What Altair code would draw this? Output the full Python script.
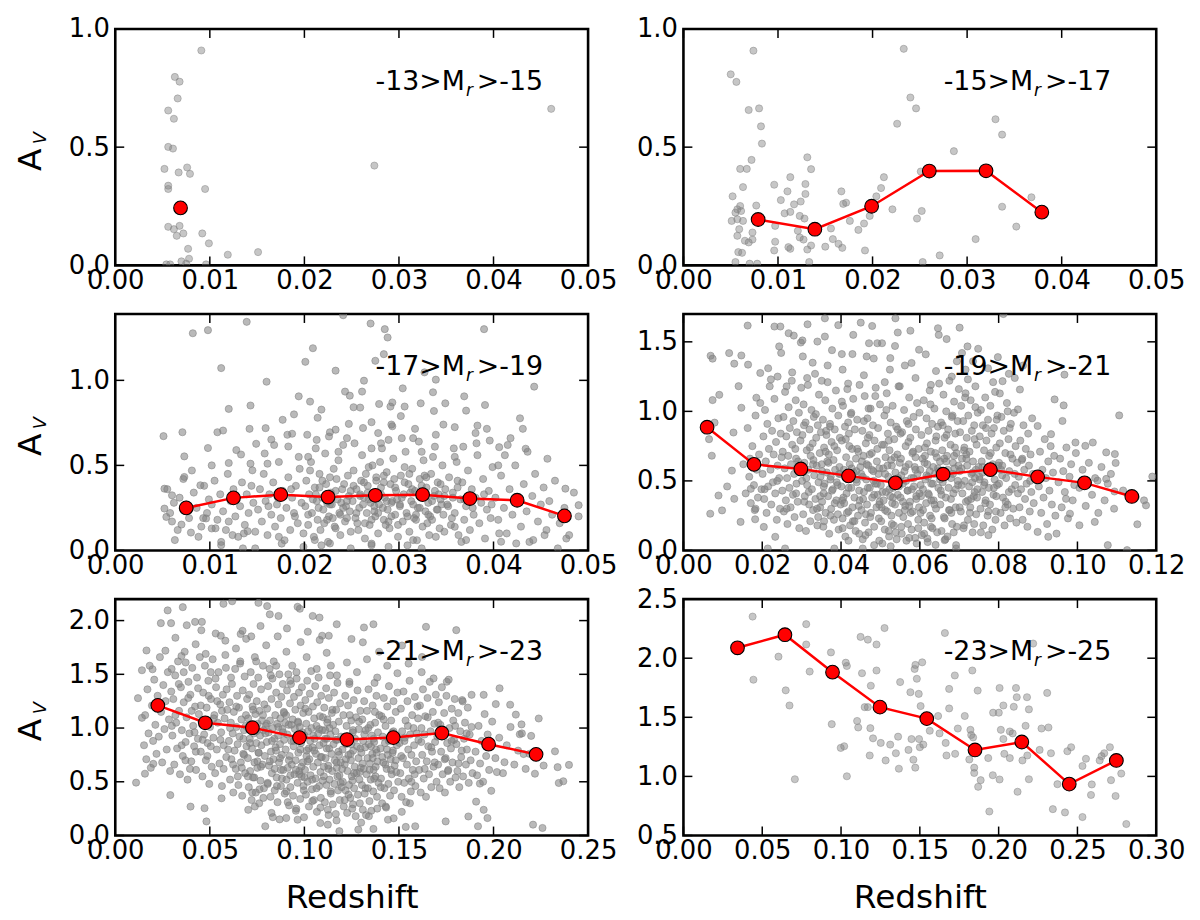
import altair as alt
import pandas as pd

W = 476
H = 238
TICK_LEN = 9
GRAY = '#808080'
RED = '#ff0000'
FONT = 'DejaVu Sans'

LABEL_LEFT = ['-13', '-15', '-17', '-19', '-21', '-23']
LABEL_RIGHT = ['-15', '-17', '-19', '-21', '-23', '-25']

X_MAX = [0.05, 0.05, 0.05, 0.12, 0.25, 0.30]
Y_RANGE = [(0.0, 1.0), (0.0, 1.0), (0.0, 1.39), (0.0, 1.7), (0.0, 2.2), (0.5, 2.5)]
X_TICKS = [
    [0.0, 0.01, 0.02, 0.03, 0.04, 0.05],
    [0.0, 0.01, 0.02, 0.03, 0.04, 0.05],
    [0.0, 0.01, 0.02, 0.03, 0.04, 0.05],
    [0.0, 0.02, 0.04, 0.06, 0.08, 0.10, 0.12],
    [0.0, 0.05, 0.10, 0.15, 0.20, 0.25],
    [0.0, 0.05, 0.10, 0.15, 0.20, 0.25, 0.30],
]
Y_TICKS = [
    [0.0, 0.5, 1.0],
    [0.0, 0.5, 1.0],
    [0.0, 0.5, 1.0],
    [0.0, 0.5, 1.0, 1.5],
    [0.0, 0.5, 1.0, 1.5, 2.0],
    [0.5, 1.0, 1.5, 2.0, 2.5],
]
# the crowded panels overlap far more, so their clouds read darker
POINT_ALPHA = [0.45, 0.45, 0.55, 0.55, 0.55, 0.45]

# binned medians (red curve)
BIN_Z = [
    [0.0069],
    [0.0079, 0.0139, 0.0199, 0.0260, 0.0320, 0.0379],
    [0.0075, 0.0125, 0.0175, 0.0225, 0.0275, 0.0325, 0.0375, 0.0425, 0.0475],
    [0.0060, 0.0179, 0.0298, 0.0419, 0.0538, 0.0659, 0.0779, 0.0899, 0.1018, 0.1138],
    [0.0225, 0.0476, 0.0725, 0.0974, 0.1225, 0.1470, 0.1727, 0.1974, 0.2225],
    [0.0343, 0.0644, 0.0946, 0.1247, 0.1544, 0.1850, 0.2147, 0.2448, 0.2747],
]
BIN_AV = [
    [0.243],
    [0.194, 0.153, 0.250, 0.399, 0.400, 0.225],
    [0.250, 0.309, 0.328, 0.314, 0.324, 0.328, 0.305, 0.295, 0.203],
    [0.886, 0.619, 0.586, 0.536, 0.486, 0.548, 0.581, 0.529, 0.486, 0.388],
    [1.211, 1.049, 1.003, 0.911, 0.893, 0.911, 0.954, 0.850, 0.755],
    [2.088, 2.199, 1.882, 1.586, 1.489, 1.224, 1.291, 0.935, 1.135],
]

# individual galaxies (redshift, A_V)
P1 = [
    (0.0091, 0.909), (0.0063, 0.797), (0.0068, 0.777), (0.0066, 0.706), (0.0056, 0.655),
    (0.0062, 0.620), (0.0056, 0.501), (0.0061, 0.494), (0.0052, 0.408), (0.0067, 0.393),
    (0.0076, 0.414), (0.0079, 0.387), (0.0056, 0.337), (0.0056, 0.323), (0.0095, 0.323),
    (0.0056, 0.163), (0.0062, 0.153), (0.0068, 0.167), (0.0072, 0.135), (0.0065, 0.125),
    (0.0092, 0.135), (0.0099, 0.093), (0.0077, 0.070), (0.0078, 0.028), (0.0070, 0.017),
    (0.0119, 0.045), (0.0151, 0.056), (0.0274, 0.422), (0.0461, 0.662), (0.0054, 0.004),
    (0.0058, 0.004), (0.0096, 0.004), (0.0075, 0.007),
]
P2 = [
    (0.0074, 0.908), (0.0233, 0.916), (0.0050, 0.808), (0.0056, 0.776), (0.0069, 0.657),
    (0.0080, 0.664), (0.0082, 0.588), (0.0083, 0.515), (0.0072, 0.446), (0.0060, 0.408),
    (0.0067, 0.408), (0.0063, 0.331), (0.0052, 0.292), (0.0240, 0.710), (0.0246, 0.664),
    (0.0226, 0.599), (0.0330, 0.618), (0.0337, 0.553), (0.0286, 0.483), (0.0131, 0.457),
    (0.0135, 0.407), (0.0113, 0.373), (0.0096, 0.341), (0.0129, 0.344), (0.0110, 0.313),
    (0.0129, 0.302), (0.0103, 0.276), (0.0124, 0.270), (0.0117, 0.258), (0.0077, 0.253),
    (0.0167, 0.313), (0.0172, 0.265), (0.0169, 0.260), (0.0212, 0.373), (0.0209, 0.327),
    (0.0204, 0.292), (0.0221, 0.237), (0.0251, 0.397), (0.0252, 0.230), (0.0247, 0.198),
    (0.0368, 0.288), (0.0337, 0.248), (0.0352, 0.164), (0.0309, 0.111), (0.0271, 0.042),
    (0.0253, 0.014), (0.0107, 0.220), (0.0113, 0.226), (0.0123, 0.209), (0.0128, 0.198),
    (0.0097, 0.167), (0.0121, 0.146), (0.0123, 0.118), (0.0127, 0.109), (0.0135, 0.084),
    (0.0131, 0.067), (0.0133, 0.014), (0.0097, 0.100), (0.0096, 0.063), (0.0111, 0.077),
    (0.0113, 0.070), (0.0150, 0.079), (0.0156, 0.156), (0.0158, 0.111), (0.0164, 0.091),
    (0.0168, 0.074), (0.0176, 0.188), (0.0185, 0.150), (0.0191, 0.177), (0.0192, 0.063),
    (0.0197, 0.209), (0.0057, 0.237), (0.0055, 0.223), (0.0061, 0.230), (0.0051, 0.188),
    (0.0057, 0.195), (0.0063, 0.188), (0.0059, 0.153), (0.0057, 0.125), (0.0065, 0.104),
    (0.0073, 0.139), (0.0073, 0.109), (0.0069, 0.097), (0.0058, 0.056), (0.0062, 0.053),
    (0.0055, 0.014), (0.0070, 0.007), (0.0078, 0.007), (0.0060, 0.251),
]
P3 = [
    (0.0082, 1.277), (0.0098, 1.295), (0.0139, 1.344), (0.0112, 1.072), (0.0241, 1.383),
    (0.0270, 1.334), (0.0285, 1.301), (0.0288, 1.252), (0.0390, 1.301), (0.0209, 1.189),
    (0.0201, 1.109), (0.0233, 1.057), (0.0284, 1.154), (0.0275, 1.115), (0.0327, 1.047),
    (0.0339, 1.004), (0.0336, 0.930), (0.0304, 0.953), (0.0263, 0.998), (0.0160, 0.992),
    (0.0261, 0.934), (0.0243, 0.934), (0.0443, 0.963), (0.0194, 0.906), (0.0369, 0.906),
    (0.0391, 0.855), (0.0349, 0.865), (0.0120, 0.832), (0.0143, 0.852), (0.0206, 0.875),
    (0.0218, 0.828), (0.0252, 0.842), (0.0279, 0.861), (0.0291, 0.846), (0.0306, 0.846),
    (0.0323, 0.865), (0.0371, 0.822), (0.0177, 0.768), (0.0428, 0.777), (0.0359, 0.725),
    (0.0383, 0.734), (0.0393, 0.715), (0.0431, 0.715), (0.0051, 0.672), (0.0071, 0.695),
    (0.0108, 0.695), (0.0114, 0.705), (0.0142, 0.715), (0.0159, 0.719), (0.0187, 0.686),
    (0.0213, 0.650), (0.0227, 0.695), (0.0247, 0.744), (0.0271, 0.754), (0.0293, 0.730),
    (0.0317, 0.715), (0.0418, 0.660), (0.0396, 0.646), (0.0406, 0.607), (0.0434, 0.598),
    (0.0457, 0.539), (0.0098, 0.602), (0.0073, 0.553), (0.0102, 0.500), (0.0120, 0.514),
    (0.0133, 0.564), (0.0145, 0.471), (0.0149, 0.627), (0.0165, 0.652), (0.0183, 0.611),
    (0.0161, 0.510), (0.0073, 0.432), (0.0090, 0.383), (0.0052, 0.363), (0.0060, 0.324),
    (0.0052, 0.246), (0.0054, 0.197), (0.0070, 0.152), (0.0080, 0.105), (0.0063, 0.061),
    (0.0096, 0.188), (0.0102, 0.129), (0.0112, 0.031), (0.0135, 0.012), (0.0148, 0.012),
    (0.0140, 0.113), (0.0124, 0.090), (0.0490, 0.266), (0.0476, 0.363), (0.0477, 0.070),
    (0.0468, 0.012), (0.0454, 0.090), (0.0442, 0.061), (0.0424, 0.041), (0.0408, 0.051),
    (0.0406, 0.100), (0.0371, 0.061), (0.0359, 0.139), (0.0324, 0.012), (0.0315, 0.061),
    (0.0289, 0.021), (0.0271, 0.031), (0.0249, 0.012), (0.0227, 0.041), (0.0211, 0.061),
    (0.0199, 0.021), (0.0173, 0.080),
    (0.0055, 0.36), (0.0062, 0.28), (0.0058, 0.22), (0.0068, 0.31), (0.0072, 0.42),
    (0.0078, 0.19), (0.0083, 0.34), (0.0086, 0.25), (0.0091, 0.14), (0.0094, 0.38),
    (0.0097, 0.22), (0.0066, 0.12), (0.0088, 0.08), (0.0075, 0.27), (0.0099, 0.30),
    (0.0081, 0.47), (0.0060, 0.17), (0.0093, 0.19),
    (0.0102, 0.27), (0.0105, 0.41), (0.0108, 0.18), (0.0111, 0.33), (0.0114, 0.23),
    (0.0117, 0.12), (0.0119, 0.45), (0.0122, 0.29), (0.0125, 0.36), (0.0127, 0.20),
    (0.0130, 0.08), (0.0132, 0.26), (0.0134, 0.40), (0.0137, 0.15), (0.0139, 0.33),
    (0.0141, 0.22), (0.0143, 0.51), (0.0146, 0.28), (0.0148, 0.11), (0.0112, 0.05),
    (0.0128, 0.59), (0.0136, 0.10), (0.0106, 0.13), (0.0144, 0.38), (0.0120, 0.17),
    (0.0151, 0.24), (0.0153, 0.36), (0.0155, 0.17), (0.0157, 0.45), (0.0159, 0.29),
    (0.0161, 0.09), (0.0163, 0.33), (0.0165, 0.21), (0.0167, 0.40), (0.0169, 0.14),
    (0.0171, 0.27), (0.0173, 0.52), (0.0175, 0.19), (0.0177, 0.35), (0.0179, 0.06),
    (0.0181, 0.25), (0.0183, 0.43), (0.0185, 0.12), (0.0187, 0.31), (0.0189, 0.22),
    (0.0191, 0.38), (0.0193, 0.16), (0.0195, 0.48), (0.0197, 0.28), (0.0199, 0.10),
    (0.0158, 0.57), (0.0168, 0.62), (0.0182, 0.68), (0.0194, 0.55), (0.0176, 0.04),
    (0.0186, 0.36), (0.0162, 0.26), (0.0172, 0.31), (0.0190, 0.20),
    (0.0201, 0.26), (0.0202, 0.41), (0.0204, 0.15), (0.0205, 0.33), (0.0207, 0.52),
    (0.0208, 0.22), (0.0210, 0.08), (0.0211, 0.37), (0.0213, 0.29), (0.0214, 0.18),
    (0.0216, 0.45), (0.0217, 0.12), (0.0219, 0.31), (0.0220, 0.24), (0.0222, 0.57),
    (0.0223, 0.39), (0.0225, 0.05), (0.0226, 0.20), (0.0228, 0.34), (0.0229, 0.27),
    (0.0231, 0.48), (0.0232, 0.14), (0.0234, 0.42), (0.0235, 0.30), (0.0237, 0.22),
    (0.0238, 0.09), (0.0240, 0.36), (0.0241, 0.62), (0.0243, 0.17), (0.0244, 0.26),
    (0.0246, 0.44), (0.0247, 0.32), (0.0249, 0.11), (0.0206, 0.47), (0.0212, 0.60),
    (0.0218, 0.03), (0.0224, 0.28), (0.0230, 0.19), (0.0236, 0.53), (0.0242, 0.39),
    (0.0248, 0.23), (0.0209, 0.30), (0.0215, 0.25), (0.0221, 0.16), (0.0227, 0.43),
    (0.0233, 0.35), (0.0239, 0.28), (0.0245, 0.19), (0.0203, 0.68), (0.0233, 0.71),
    (0.0245, 0.66),
    (0.0251, 0.29), (0.0252, 0.47), (0.0254, 0.19), (0.0255, 0.36), (0.0257, 0.12),
    (0.0258, 0.25), (0.0260, 0.41), (0.0261, 0.56), (0.0263, 0.31), (0.0264, 0.07),
    (0.0266, 0.22), (0.0267, 0.38), (0.0269, 0.15), (0.0270, 0.28), (0.0272, 0.50),
    (0.0273, 0.34), (0.0275, 0.20), (0.0276, 0.43), (0.0278, 0.10), (0.0279, 0.27),
    (0.0281, 0.37), (0.0282, 0.60), (0.0284, 0.18), (0.0285, 0.31), (0.0287, 0.46),
    (0.0288, 0.24), (0.0290, 0.13), (0.0291, 0.39), (0.0293, 0.29), (0.0294, 0.54),
    (0.0296, 0.21), (0.0297, 0.35), (0.0299, 0.08), (0.0253, 0.63), (0.0259, 0.33),
    (0.0265, 0.45), (0.0271, 0.04), (0.0277, 0.32), (0.0283, 0.25), (0.0289, 0.65),
    (0.0295, 0.42), (0.0256, 0.16), (0.0262, 0.27), (0.0268, 0.49), (0.0274, 0.23),
    (0.0280, 0.52), (0.0286, 0.15), (0.0292, 0.20), (0.0298, 0.30), (0.0262, 0.72),
    (0.0278, 0.69), (0.0292, 0.74), (0.0268, 0.30), (0.0284, 0.40),
    (0.0301, 0.26), (0.0302, 0.44), (0.0304, 0.17), (0.0305, 0.33), (0.0307, 0.58),
    (0.0308, 0.22), (0.0310, 0.39), (0.0311, 0.11), (0.0313, 0.29), (0.0314, 0.48),
    (0.0316, 0.19), (0.0317, 0.35), (0.0319, 0.06), (0.0320, 0.25), (0.0322, 0.42),
    (0.0323, 0.31), (0.0325, 0.14), (0.0326, 0.53), (0.0328, 0.23), (0.0329, 0.37),
    (0.0331, 0.28), (0.0332, 0.09), (0.0334, 0.45), (0.0335, 0.18), (0.0337, 0.32),
    (0.0338, 0.61), (0.0340, 0.24), (0.0341, 0.40), (0.0343, 0.13), (0.0344, 0.30),
    (0.0346, 0.50), (0.0347, 0.21), (0.0349, 0.36), (0.0303, 0.66), (0.0309, 0.03),
    (0.0315, 0.27), (0.0321, 0.64), (0.0327, 0.44), (0.0333, 0.20), (0.0339, 0.08),
    (0.0345, 0.27), (0.0312, 0.34), (0.0318, 0.21), (0.0324, 0.38), (0.0330, 0.16),
    (0.0336, 0.55), (0.0342, 0.33), (0.0348, 0.11), (0.0306, 0.49), (0.0339, 0.68),
    (0.0351, 0.27), (0.0353, 0.43), (0.0355, 0.15), (0.0357, 0.34), (0.0359, 0.22),
    (0.0361, 0.52), (0.0363, 0.09), (0.0365, 0.30), (0.0367, 0.40), (0.0369, 0.18),
    (0.0371, 0.26), (0.0373, 0.47), (0.0375, 0.12), (0.0377, 0.36), (0.0379, 0.21),
    (0.0381, 0.31), (0.0383, 0.56), (0.0385, 0.16), (0.0387, 0.28), (0.0389, 0.42),
    (0.0391, 0.07), (0.0393, 0.24), (0.0395, 0.35), (0.0397, 0.19), (0.0399, 0.49),
    (0.0358, 0.60), (0.0366, 0.05), (0.0374, 0.29), (0.0382, 0.63), (0.0390, 0.33),
    (0.0398, 0.27), (0.0362, 0.37), (0.0378, 0.25),
    (0.0402, 0.31), (0.0405, 0.18), (0.0408, 0.44), (0.0411, 0.25), (0.0414, 0.10),
    (0.0417, 0.36), (0.0420, 0.21), (0.0423, 0.50), (0.0426, 0.28), (0.0429, 0.14),
    (0.0432, 0.39), (0.0435, 0.23), (0.0438, 0.05), (0.0441, 0.32), (0.0444, 0.45),
    (0.0447, 0.17), (0.0450, 0.27), (0.0453, 0.37), (0.0456, 0.12), (0.0459, 0.29),
    (0.0462, 0.21), (0.0465, 0.41), (0.0470, 0.16), (0.0475, 0.25), (0.0480, 0.09),
    (0.0485, 0.34), (0.0490, 0.20), (0.0412, 0.56), (0.0436, 0.58),
]
P3_CORE = [
    (0.0212, 0.33), (0.0238, 0.21), (0.0263, 0.40), (0.0289, 0.17), (0.0314, 0.36),
    (0.0341, 0.24), (0.0227, 0.27), (0.0252, 0.38), (0.0278, 0.22), (0.0303, 0.31),
    (0.0329, 0.43), (0.0356, 0.19), (0.0219, 0.41), (0.0245, 0.29), (0.0271, 0.18),
    (0.0296, 0.37), (0.0322, 0.25), (0.0348, 0.32), (0.0233, 0.13), (0.0259, 0.32),
    (0.0284, 0.44), (0.0309, 0.20), (0.0335, 0.29), (0.0362, 0.41), (0.0204, 0.21),
    (0.0249, 0.35), (0.0274, 0.26), (0.0299, 0.15), (0.0326, 0.33), (0.0352, 0.26),
    (0.0216, 0.37), (0.0241, 0.25), (0.0267, 0.34), (0.0292, 0.28), (0.0318, 0.18),
    (0.0344, 0.39), (0.0229, 0.31), (0.0255, 0.22), (0.0281, 0.33), (0.0306, 0.40),
    (0.0331, 0.21), (0.0369, 0.30), (0.0224, 0.18), (0.0276, 0.41), (0.0301, 0.27),
    (0.0338, 0.35), (0.0264, 0.16), (0.0311, 0.45), (0.0287, 0.29), (0.0357, 0.31),
    (0.0214, 0.78), (0.0236, 0.58), (0.0259, 0.84), (0.0281, 0.63), (0.0302, 0.79),
    (0.0324, 0.58), (0.0347, 0.74), (0.0368, 0.61), (0.0226, 0.67), (0.0248, 0.91),
    (0.0271, 0.60), (0.0293, 0.87), (0.0315, 0.66), (0.0337, 0.82), (0.0359, 0.55),
    (0.0381, 0.69), (0.0204, 0.55), (0.0405, 0.50), (0.0189, 0.80), (0.0415, 0.62),
]
P4 = [
    (0.0069, 1.400), (0.0074, 1.379), (0.0074, 1.081), (0.0091, 1.119), (0.0079, 0.919),
    (0.0065, 0.800), (0.0072, 0.681), (0.0068, 0.264), (0.0098, 0.288), (0.0089, 0.395),
    (0.0111, 0.460), (0.0116, 1.419), (0.0129, 1.343), (0.0147, 1.402), (0.0163, 1.617),
    (0.0164, 1.336), (0.0127, 0.848), (0.0147, 1.026), (0.0140, 1.181), (0.0123, 0.574),
    (0.0129, 0.371), (0.0145, 0.205), (0.0182, 0.224), (0.0185, 1.098), (0.0195, 1.276),
    (0.0231, 1.610), (0.0246, 1.610), (0.0243, 1.467), (0.0267, 1.562), (0.0280, 1.545),
    (0.0298, 1.495), (0.0303, 1.395), (0.0315, 1.626), (0.0340, 1.502), (0.0359, 1.538),
    (0.0359, 1.669), (0.0450, 1.638), (0.0479, 1.614), (0.0402, 1.412), (0.0429, 1.412),
    (0.0465, 1.395), (0.0492, 1.490), (0.0504, 1.490), (0.0525, 1.383), (0.0538, 1.669),
    (0.0544, 1.567), (0.0598, 1.443), (0.0579, 1.348), (0.0646, 1.598), (0.0648, 1.550),
    (0.0701, 1.602), (0.0721, 1.467), (0.0716, 1.300), (0.0812, 1.700), (0.0803, 1.129),
    (0.0810, 1.217), (0.0841, 1.240), (0.0854, 1.157), (0.0849, 1.014), (0.0899, 0.895),
    (0.0942, 1.086), (0.0965, 1.043), (0.0967, 1.264), (0.0933, 0.836), (0.0962, 0.931),
    (0.1106, 0.971), (0.0995, 0.776), (0.1020, 0.752), (0.1039, 0.776), (0.1073, 0.705),
    (0.1095, 0.693), (0.1097, 0.629), (0.1051, 0.502), (0.1073, 0.514), (0.1094, 0.424),
    (0.1116, 0.431), (0.1148, 0.383), (0.1169, 0.360), (0.1174, 0.324), (0.1190, 0.531),
    (0.1152, 0.188), (0.1077, 0.038), (0.1126, 0.002), (0.1044, 0.205), (0.1005, 0.181),
    (0.0947, 0.121), (0.0926, 0.098), (0.0899, 0.133), (0.0981, 0.264), (0.0971, 0.371),
    (0.0774, 0.110), (0.0692, 0.038), (0.0692, 0.014), (0.0663, 0.074), (0.0619, 0.086),
    (0.0455, 0.014), (0.0484, 0.038), (0.0383, 0.014), (0.0258, 0.014), (0.0214, 0.014),
    (0.0233, 0.098), (0.0204, 0.169), (0.0183, 0.300), (0.0171, 0.443),
    (0.0152, 0.62), (0.0158, 0.41), (0.0163, 0.88), (0.0167, 0.53), (0.0171, 0.34),
    (0.0175, 0.75), (0.0179, 0.47), (0.0183, 0.97), (0.0186, 0.58), (0.0189, 0.38),
    (0.0192, 0.69), (0.0195, 1.06), (0.0198, 0.44), (0.0169, 0.66), (0.0181, 0.29),
    (0.0201, 0.55), (0.0203, 0.82), (0.0205, 0.37), (0.0207, 1.01), (0.0209, 0.64),
    (0.0211, 0.27), (0.0213, 0.91), (0.0215, 0.46), (0.0217, 0.73), (0.0219, 1.18),
    (0.0221, 0.58), (0.0223, 0.33), (0.0225, 0.86), (0.0227, 0.49), (0.0229, 0.69),
    (0.0231, 1.09), (0.0233, 0.41), (0.0235, 0.78), (0.0237, 0.22), (0.0239, 0.61),
    (0.0241, 0.95), (0.0243, 0.52), (0.0245, 0.30), (0.0247, 0.84), (0.0249, 0.67),
    (0.0206, 0.44), (0.0222, 1.23), (0.0238, 0.50),
    (0.0251, 0.43), (0.0252, 0.71), (0.0254, 0.96), (0.0255, 0.28), (0.0257, 0.59),
    (0.0258, 1.14), (0.0260, 0.36), (0.0261, 0.82), (0.0263, 0.52), (0.0264, 0.19),
    (0.0266, 0.68), (0.0267, 1.03), (0.0269, 0.45), (0.0270, 0.88), (0.0272, 0.31),
    (0.0273, 0.62), (0.0275, 1.22), (0.0276, 0.76), (0.0278, 0.40), (0.0279, 0.93),
    (0.0281, 0.55), (0.0282, 0.24), (0.0284, 0.73), (0.0285, 1.08), (0.0287, 0.48),
    (0.0288, 0.85), (0.0290, 0.35), (0.0291, 0.64), (0.0293, 0.99), (0.0294, 0.16),
    (0.0296, 0.57), (0.0297, 0.79), (0.0299, 1.17), (0.0262, 0.30), (0.0286, 0.66),
    (0.0301, 0.50), (0.0302, 0.83), (0.0304, 0.26), (0.0305, 1.05), (0.0307, 0.63),
    (0.0308, 0.39), (0.0310, 0.92), (0.0311, 0.14), (0.0313, 0.72), (0.0314, 0.47),
    (0.0316, 1.19), (0.0317, 0.58), (0.0319, 0.33), (0.0320, 0.87), (0.0322, 0.21),
    (0.0323, 0.68), (0.0325, 1.01), (0.0326, 0.44), (0.0328, 0.77), (0.0329, 0.29),
    (0.0331, 0.96), (0.0332, 0.54), (0.0334, 1.27), (0.0335, 0.37), (0.0337, 0.81),
    (0.0338, 0.61), (0.0340, 0.18), (0.0341, 0.90), (0.0343, 0.49), (0.0344, 1.12),
    (0.0346, 0.70), (0.0347, 0.31), (0.0349, 0.85), (0.0306, 0.57), (0.0318, 0.42),
    (0.0330, 0.65), (0.0342, 0.24), (0.0348, 0.53),
    (0.0351, 0.62), (0.0352, 0.35), (0.0354, 0.94), (0.0355, 0.17), (0.0357, 0.74),
    (0.0358, 0.48), (0.0360, 1.08), (0.0361, 0.27), (0.0363, 0.83), (0.0364, 0.56),
    (0.0366, 1.21), (0.0367, 0.39), (0.0369, 0.69), (0.0370, 0.12), (0.0372, 0.91),
    (0.0373, 0.51), (0.0375, 0.30), (0.0376, 0.78), (0.0378, 1.02), (0.0379, 0.44),
    (0.0381, 0.65), (0.0382, 0.22), (0.0384, 0.87), (0.0385, 0.58), (0.0387, 1.15),
    (0.0388, 0.36), (0.0390, 0.72), (0.0391, 0.47), (0.0393, 0.97), (0.0394, 0.15),
    (0.0396, 0.60), (0.0397, 0.81), (0.0399, 0.33), (0.0356, 0.41), (0.0365, 0.64),
    (0.0374, 0.53), (0.0383, 0.75), (0.0392, 0.26), (0.0398, 0.55), (0.0362, 0.86),
    (0.0401, 0.46), (0.0402, 0.79), (0.0404, 0.23), (0.0405, 1.04), (0.0407, 0.58),
    (0.0408, 0.34), (0.0410, 0.89), (0.0411, 0.10), (0.0413, 0.67), (0.0414, 0.41),
    (0.0416, 1.16), (0.0417, 0.53), (0.0419, 0.28), (0.0420, 0.84), (0.0422, 0.62),
    (0.0423, 0.18), (0.0425, 0.98), (0.0426, 0.45), (0.0428, 0.73), (0.0429, 0.31),
    (0.0431, 1.09), (0.0432, 0.56), (0.0434, 0.38), (0.0435, 0.87), (0.0437, 0.14),
    (0.0438, 0.66), (0.0440, 0.49), (0.0441, 0.94), (0.0443, 0.25), (0.0444, 0.71),
    (0.0446, 0.43), (0.0447, 1.19), (0.0449, 0.60), (0.0403, 0.36), (0.0412, 0.52),
    (0.0421, 0.75), (0.0430, 0.21), (0.0439, 0.57), (0.0445, 0.32), (0.0418, 0.92),
    (0.0451, 0.55), (0.0452, 0.29), (0.0454, 0.86), (0.0455, 0.08), (0.0457, 0.68),
    (0.0458, 0.42), (0.0460, 1.11), (0.0461, 0.20), (0.0463, 0.77), (0.0464, 0.51),
    (0.0466, 0.33), (0.0467, 0.95), (0.0469, 0.61), (0.0470, 0.13), (0.0472, 0.83),
    (0.0473, 0.45), (0.0475, 1.02), (0.0476, 0.27), (0.0478, 0.70), (0.0479, 0.38),
    (0.0481, 0.90), (0.0482, 0.57), (0.0484, 0.17), (0.0485, 0.79), (0.0487, 0.48),
    (0.0488, 1.17), (0.0490, 0.31), (0.0491, 0.64), (0.0493, 0.40), (0.0494, 0.88),
    (0.0496, 0.23), (0.0497, 0.59), (0.0499, 1.05), (0.0456, 0.37), (0.0465, 0.62),
    (0.0474, 0.24), (0.0483, 0.50), (0.0492, 0.73), (0.0498, 0.35), (0.0468, 0.81),
    (0.0501, 0.47), (0.0502, 0.21), (0.0504, 0.76), (0.0505, 0.05), (0.0507, 0.59),
    (0.0508, 0.36), (0.0510, 0.97), (0.0511, 0.15), (0.0513, 0.67), (0.0514, 0.42),
    (0.0516, 1.13), (0.0517, 0.28), (0.0519, 0.84), (0.0520, 0.53), (0.0522, 0.10),
    (0.0523, 0.72), (0.0525, 0.39), (0.0526, 0.92), (0.0528, 0.25), (0.0529, 0.61),
    (0.0531, 1.04), (0.0532, 0.45), (0.0534, 0.18), (0.0535, 0.80), (0.0537, 0.33),
    (0.0538, 0.56), (0.0540, 0.89), (0.0541, 0.08), (0.0543, 0.69), (0.0544, 0.40),
    (0.0546, 1.18), (0.0547, 0.27), (0.0549, 0.63), (0.0503, 0.31), (0.0512, 0.55),
    (0.0521, 0.79), (0.0530, 0.34), (0.0539, 0.13), (0.0548, 0.50), (0.0527, 0.65),
    (0.0551, 0.38), (0.0552, 0.66), (0.0554, 0.12), (0.0555, 0.85), (0.0557, 0.48),
    (0.0558, 0.24), (0.0560, 1.01), (0.0561, 0.57), (0.0563, 0.32), (0.0564, 0.75),
    (0.0566, 0.07), (0.0567, 0.93), (0.0569, 0.43), (0.0570, 0.19), (0.0572, 0.62),
    (0.0573, 1.10), (0.0575, 0.35), (0.0576, 0.81), (0.0578, 0.52), (0.0579, 0.15),
    (0.0581, 0.70), (0.0582, 0.28), (0.0584, 0.96), (0.0585, 0.46), (0.0587, 0.60),
    (0.0588, 0.09), (0.0590, 0.87), (0.0591, 0.37), (0.0593, 1.06), (0.0594, 0.55),
    (0.0596, 0.22), (0.0597, 0.73), (0.0599, 0.41), (0.0553, 0.54), (0.0562, 0.29),
    (0.0571, 0.78), (0.0580, 0.44), (0.0589, 0.67), (0.0598, 0.31), (0.0565, 0.50),
    (0.0601, 0.58), (0.0602, 0.27), (0.0604, 0.83), (0.0605, 0.11), (0.0607, 0.66),
    (0.0608, 0.44), (0.0610, 1.08), (0.0611, 0.20), (0.0613, 0.74), (0.0614, 0.51),
    (0.0616, 0.34), (0.0617, 0.95), (0.0619, 0.62), (0.0620, 0.06), (0.0622, 0.86),
    (0.0623, 0.40), (0.0625, 1.15), (0.0626, 0.25), (0.0628, 0.71), (0.0629, 0.48),
    (0.0631, 0.91), (0.0632, 0.16), (0.0634, 0.60), (0.0635, 0.36), (0.0637, 1.02),
    (0.0638, 0.55), (0.0640, 0.79), (0.0641, 0.30), (0.0643, 0.67), (0.0644, 0.13),
    (0.0646, 0.89), (0.0647, 0.45), (0.0649, 1.20), (0.0603, 0.39), (0.0612, 0.63),
    (0.0621, 0.53), (0.0630, 0.23), (0.0639, 0.70), (0.0648, 0.57), (0.0618, 0.77),
    (0.0651, 0.64), (0.0652, 0.33), (0.0654, 0.92), (0.0655, 0.14), (0.0657, 0.72),
    (0.0658, 0.49), (0.0660, 1.12), (0.0661, 0.24), (0.0663, 0.81), (0.0664, 0.56),
    (0.0666, 0.38), (0.0667, 1.00), (0.0669, 0.68), (0.0670, 0.10), (0.0672, 0.87),
    (0.0673, 0.45), (0.0675, 1.22), (0.0676, 0.29), (0.0678, 0.76), (0.0679, 0.52),
    (0.0681, 0.96), (0.0682, 0.19), (0.0684, 0.63), (0.0685, 0.41), (0.0687, 1.07),
    (0.0688, 0.59), (0.0690, 0.84), (0.0691, 0.31), (0.0693, 0.70), (0.0694, 0.17),
    (0.0696, 0.93), (0.0697, 0.47), (0.0699, 1.16), (0.0653, 0.43), (0.0662, 0.66),
    (0.0671, 0.58), (0.0680, 0.27), (0.0689, 0.74), (0.0698, 0.61), (0.0668, 0.83),
    (0.0701, 0.57), (0.0702, 0.85), (0.0704, 0.28), (0.0705, 1.04), (0.0707, 0.66),
    (0.0708, 0.41), (0.0710, 0.93), (0.0711, 0.16), (0.0713, 0.74), (0.0714, 0.50),
    (0.0716, 1.13), (0.0717, 0.35), (0.0719, 0.81), (0.0720, 0.61), (0.0722, 0.22),
    (0.0723, 0.97), (0.0725, 0.46), (0.0726, 0.71), (0.0728, 0.31), (0.0729, 1.08),
    (0.0731, 0.55), (0.0732, 0.86), (0.0734, 0.13), (0.0735, 0.64), (0.0737, 0.39),
    (0.0738, 0.90), (0.0740, 0.52), (0.0741, 1.18), (0.0743, 0.26), (0.0744, 0.76),
    (0.0746, 0.44), (0.0747, 0.99), (0.0749, 0.60), (0.0706, 0.47), (0.0718, 0.69),
    (0.0730, 0.37), (0.0742, 0.58), (0.0739, 0.80),
    (0.0751, 0.53), (0.0752, 0.82), (0.0754, 0.30), (0.0755, 1.01), (0.0757, 0.64),
    (0.0758, 0.42), (0.0760, 0.90), (0.0761, 0.18), (0.0763, 0.72), (0.0764, 0.49),
    (0.0766, 1.10), (0.0767, 0.36), (0.0769, 0.79), (0.0770, 0.58), (0.0772, 0.25),
    (0.0773, 0.94), (0.0775, 0.45), (0.0776, 0.68), (0.0778, 0.33), (0.0779, 1.04),
    (0.0781, 0.56), (0.0782, 0.84), (0.0784, 0.15), (0.0785, 0.62), (0.0787, 0.40),
    (0.0788, 0.88), (0.0790, 0.51), (0.0791, 1.14), (0.0793, 0.28), (0.0794, 0.74),
    (0.0796, 0.47), (0.0797, 0.97), (0.0799, 0.61), (0.0759, 0.56), (0.0780, 0.70),
    (0.0801, 0.48), (0.0803, 0.77), (0.0805, 0.27), (0.0807, 0.96), (0.0809, 0.61),
    (0.0811, 0.38), (0.0813, 0.86), (0.0815, 0.18), (0.0817, 0.70), (0.0819, 0.52),
    (0.0821, 1.06), (0.0823, 0.33), (0.0825, 0.80), (0.0827, 0.57), (0.0829, 0.23),
    (0.0831, 0.91), (0.0833, 0.44), (0.0835, 0.66), (0.0837, 0.30), (0.0839, 0.99),
    (0.0841, 0.55), (0.0843, 0.75), (0.0845, 0.20), (0.0847, 0.63), (0.0849, 0.41),
    (0.0806, 0.58), (0.0818, 0.35), (0.0830, 0.69), (0.0842, 0.47), (0.0828, 0.88),
    (0.0851, 0.53), (0.0853, 0.31), (0.0855, 0.79), (0.0857, 0.44), (0.0859, 0.65),
    (0.0861, 0.22), (0.0863, 0.90), (0.0865, 0.58), (0.0867, 0.37), (0.0869, 0.73),
    (0.0871, 0.48), (0.0873, 0.17), (0.0875, 0.84), (0.0877, 0.61), (0.0879, 0.28),
    (0.0881, 0.69), (0.0883, 0.42), (0.0885, 0.95), (0.0887, 0.55), (0.0889, 0.34),
    (0.0860, 0.66), (0.0880, 0.50),
    (0.0902, 0.46), (0.0905, 0.71), (0.0908, 0.27), (0.0911, 0.58), (0.0914, 0.38),
    (0.0917, 0.80), (0.0920, 0.52), (0.0923, 0.19), (0.0926, 0.64), (0.0929, 0.43),
    (0.0932, 0.75), (0.0935, 0.33), (0.0938, 0.56), (0.0941, 0.68), (0.0944, 0.25),
    (0.0952, 0.49), (0.0956, 0.66), (0.0960, 0.31), (0.0964, 0.57), (0.0968, 0.42),
    (0.0972, 0.74), (0.0976, 0.23), (0.0980, 0.53), (0.0984, 0.62), (0.0988, 0.36),
    (0.0992, 0.47), (0.0996, 0.70),
    (0.1005, 0.45), (0.1013, 0.58), (0.1021, 0.32), (0.1029, 0.63), (0.1037, 0.40),
    (0.1045, 0.52), (0.1053, 0.27), (0.1061, 0.60), (0.1069, 0.36), (0.1077, 0.48),
    (0.1085, 0.55), (0.1093, 0.30),
]
P4_CORE = [
    (0.0312, 0.52), (0.0447, 0.36), (0.0583, 0.71), (0.0691, 0.44), (0.0774, 0.28),
    (0.0368, 0.63), (0.0529, 0.19), (0.0625, 0.57), (0.0412, 0.80), (0.0718, 0.66),
    (0.0286, 0.41), (0.0491, 0.48), (0.0557, 0.35), (0.0663, 0.23), (0.0809, 0.54),
    (0.0339, 0.30), (0.0473, 0.69), (0.0602, 0.47), (0.0745, 0.38), (0.0395, 0.55),
    (0.0518, 0.61), (0.0642, 0.82), (0.0701, 0.31), (0.0826, 0.42), (0.0356, 0.46),
    (0.0434, 0.21), (0.0577, 0.27), (0.0613, 0.68), (0.0759, 0.60), (0.0484, 0.40),
    (0.0321, 0.74), (0.0545, 0.52), (0.0679, 0.37), (0.0427, 0.59), (0.0596, 0.16),
    (0.0733, 0.49), (0.0384, 0.34), (0.0509, 0.76), (0.0651, 0.51), (0.0788, 0.45),
    (0.0298, 0.58), (0.0463, 0.26), (0.0569, 0.43), (0.0637, 0.33), (0.0712, 0.72),
    (0.0419, 0.45), (0.0536, 0.67), (0.0589, 0.58), (0.0766, 0.34), (0.0347, 0.39),
    (0.0455, 0.53), (0.0621, 0.41), (0.0684, 0.55), (0.0801, 0.63), (0.0373, 0.25),
    (0.0497, 0.33), (0.0551, 0.84), (0.0608, 0.29), (0.0727, 0.27), (0.0441, 0.73),
    (0.0329, 0.62), (0.0523, 0.44), (0.0667, 0.64), (0.0752, 0.51), (0.0406, 0.38),
    (0.0478, 0.58), (0.0591, 0.39), (0.0696, 0.50), (0.0817, 0.31), (0.0361, 0.71),
    (0.0512, 0.29), (0.0633, 0.48), (0.0739, 0.42), (0.0453, 0.64), (0.0564, 0.60),
    (0.0674, 0.29), (0.0389, 0.49), (0.0532, 0.38), (0.0706, 0.59), (0.0794, 0.39),
    (0.0307, 0.35), (0.0468, 0.45), (0.0617, 0.54), (0.0655, 0.40), (0.0722, 0.36),
    (0.0439, 0.51), (0.0547, 0.46), (0.0584, 0.52), (0.0687, 0.68), (0.0763, 0.47),
    (0.0352, 0.57), (0.0495, 0.55), (0.0573, 0.32), (0.0646, 0.59), (0.0734, 0.56),
    (0.0415, 0.27), (0.0505, 0.42), (0.0629, 0.36), (0.0781, 0.58), (0.0377, 0.43),
    (0.0336, 0.98), (0.0402, 1.07), (0.0458, 0.93), (0.0515, 1.01), (0.0571, 0.91),
    (0.0627, 1.05), (0.0683, 0.97), (0.0741, 1.03), (0.0795, 0.94), (0.0372, 0.89),
    (0.0426, 0.99), (0.0487, 1.11), (0.0544, 0.87), (0.0599, 0.99), (0.0658, 0.90),
    (0.0715, 1.10), (0.0768, 0.88), (0.0823, 1.00), (0.0306, 0.90), (0.0470, 1.02),
    (0.0404, 0.16), (0.0462, 0.11), (0.0521, 0.14), (0.0573, 0.09), (0.0628, 0.17),
    (0.0686, 0.13), (0.0738, 0.19), (0.0497, 0.07), (0.0553, 0.17), (0.0611, 0.12),
    (0.0665, 0.08), (0.0357, 0.21), (0.0792, 0.22), (0.0446, 0.12), (0.0592, 0.05),
    (0.0712, 0.18), (0.0640, 0.04), (0.0526, 0.03), (0.0419, 0.07), (0.0755, 0.13),
    (0.0215, 1.31), (0.0248, 1.42), (0.0276, 1.28), (0.0302, 1.51), (0.0328, 1.35),
    (0.0351, 1.22), (0.0377, 1.44), (0.0404, 1.30), (0.0431, 1.55), (0.0458, 1.26),
    (0.0483, 1.38), (0.0511, 1.21), (0.0537, 1.47), (0.0562, 1.33), (0.0589, 1.24),
    (0.0615, 1.41), (0.0641, 1.29), (0.0668, 1.52), (0.0694, 1.36), (0.0722, 1.23),
    (0.0748, 1.45), (0.0773, 1.31), (0.0798, 1.39), (0.0826, 1.27), (0.0262, 1.18),
    (0.0314, 1.24), (0.0366, 1.33), (0.0418, 1.20), (0.0471, 1.49), (0.0524, 1.30),
    (0.0576, 1.58), (0.0628, 1.19), (0.0681, 1.25), (0.0735, 1.36), (0.0786, 1.21),
    (0.0239, 1.25), (0.0393, 1.62), (0.0549, 1.18), (0.0707, 1.42), (0.0862, 1.33),
]
P5 = [
    (0.0110, 0.492), (0.0120, 1.278), (0.0141, 1.095), (0.0165, 1.722), (0.0141, 1.538),
    (0.0197, 1.547), (0.0157, 0.575), (0.0201, 0.667), (0.0241, 1.976), (0.0277, 2.095),
    (0.0295, 1.976), (0.0357, 2.125), (0.0378, 1.957), (0.0422, 1.988), (0.0458, 1.988),
    (0.0291, 0.376), (0.0398, 0.269), (0.0472, 0.254), (0.0482, 0.131), (0.0562, 0.346),
    (0.0572, 2.156), (0.0618, 2.180), (0.0558, 1.859), (0.0582, 1.813), (0.0663, 1.875),
    (0.0673, 1.905), (0.0719, 1.853), (0.0757, 2.165), (0.0803, 2.135), (0.0817, 2.058),
    (0.0863, 2.043), (0.0859, 1.853), (0.0908, 1.927), (0.0964, 2.128), (0.0976, 2.110),
    (0.1018, 1.896), (0.1044, 2.043), (0.1080, 2.028), (0.1094, 1.859), (0.1129, 1.859),
    (0.1171, 1.966), (0.1249, 1.829), (0.1309, 1.798), (0.1315, 1.936), (0.1365, 1.966),
    (0.1643, 1.942), (0.1803, 1.911), (0.1516, 1.768), (0.1622, 1.661), (0.1753, 1.431),
    (0.1683, 1.462), (0.1837, 1.248), (0.1884, 1.309), (0.1948, 1.309), (0.2032, 1.370),
    (0.2012, 1.223), (0.2088, 1.217), (0.2118, 1.125), (0.2148, 1.034), (0.2239, 1.089),
    (0.2325, 0.783), (0.2199, 0.927), (0.2139, 0.942), (0.2159, 0.758), (0.2058, 0.682),
    (0.2018, 0.590), (0.1928, 0.483), (0.1988, 0.416), (0.1908, 0.315), (0.1948, 0.239),
    (0.1968, 0.162), (0.1918, 0.086), (0.1867, 0.177), (0.2209, 0.101), (0.2259, 0.070),
    (0.2265, 0.651), (0.2339, 0.636), (0.2399, 0.657), (0.2369, 0.505), (0.2345, 0.489),
    (0.2219, 0.575), (0.1747, 0.131), (0.1586, 0.086), (0.1536, 0.080), (0.1365, 0.061),
    (0.1285, 0.055), (0.1185, 0.040), (0.1124, 0.101), (0.1084, 0.116), (0.0964, 0.147),
    (0.0904, 0.162), (0.0833, 0.171), (0.0793, 0.086), (0.0703, 0.239), (0.1442, 0.147),
    (0.0152, 0.84), (0.0158, 1.12), (0.0164, 0.71), (0.0170, 1.36), (0.0176, 0.95),
    (0.0182, 1.58), (0.0188, 0.63), (0.0194, 1.21), (0.0200, 0.88), (0.0206, 1.45),
    (0.0212, 1.03), (0.0218, 0.76), (0.0224, 1.30), (0.0230, 0.92), (0.0236, 1.66),
    (0.0242, 1.15), (0.0248, 0.68), (0.0254, 1.40), (0.0260, 0.99), (0.0266, 1.25),
    (0.0272, 0.80), (0.0278, 1.52), (0.0284, 1.08), (0.0290, 0.60), (0.0296, 1.34),
    (0.0302, 0.93), (0.0307, 1.27), (0.0312, 0.66), (0.0317, 1.49), (0.0322, 1.05),
    (0.0327, 0.81), (0.0332, 1.62), (0.0337, 1.16), (0.0342, 0.57), (0.0347, 1.38),
    (0.0352, 0.98), (0.0357, 0.74), (0.0362, 1.24), (0.0367, 1.71), (0.0372, 0.87),
    (0.0377, 1.10), (0.0382, 0.52), (0.0387, 1.43), (0.0392, 0.95), (0.0397, 1.31),
    (0.0402, 0.69), (0.0407, 1.56), (0.0412, 1.02), (0.0417, 0.83), (0.0422, 1.20),
    (0.0427, 0.61), (0.0432, 1.47), (0.0437, 0.90), (0.0442, 1.13), (0.0447, 1.66),
    (0.0452, 0.78), (0.0456, 1.06), (0.0461, 0.55), (0.0465, 1.33), (0.0470, 0.94),
    (0.0474, 1.58), (0.0479, 0.70), (0.0483, 1.19), (0.0488, 0.86), (0.0492, 1.44),
    (0.0497, 0.48), (0.0501, 1.01), (0.0506, 1.27), (0.0510, 0.64), (0.0515, 1.64),
    (0.0519, 0.91), (0.0524, 1.12), (0.0528, 0.58), (0.0533, 1.38), (0.0537, 0.80),
    (0.0542, 1.05), (0.0546, 1.52), (0.0551, 0.67), (0.0555, 1.22), (0.0560, 0.96),
    (0.0564, 0.46), (0.0569, 1.31), (0.0573, 0.84), (0.0578, 1.09), (0.0582, 1.68),
    (0.0587, 0.73), (0.0592, 1.17),
    (0.0601, 0.88), (0.0604, 1.24), (0.0607, 0.52), (0.0611, 1.05), (0.0614, 0.71),
    (0.0617, 1.41), (0.0621, 0.95), (0.0624, 0.40), (0.0627, 1.15), (0.0631, 0.79),
    (0.0634, 1.55), (0.0637, 0.62), (0.0641, 1.01), (0.0644, 1.30), (0.0647, 0.85),
    (0.0651, 0.47), (0.0654, 1.19), (0.0657, 0.92), (0.0661, 1.62), (0.0664, 0.68),
    (0.0667, 1.08), (0.0671, 0.37), (0.0674, 1.35), (0.0677, 0.76), (0.0681, 0.98),
    (0.0684, 1.48), (0.0687, 0.58), (0.0691, 1.12), (0.0694, 0.83), (0.0697, 1.27),
    (0.0701, 0.72), (0.0703, 1.09), (0.0706, 0.45), (0.0708, 1.31), (0.0711, 0.90),
    (0.0713, 0.60), (0.0716, 1.52), (0.0718, 1.01), (0.0721, 0.33), (0.0723, 0.81),
    (0.0726, 1.20), (0.0728, 0.54), (0.0731, 1.41), (0.0733, 0.95), (0.0736, 0.68),
    (0.0738, 1.66), (0.0741, 1.13), (0.0743, 0.40), (0.0746, 0.86), (0.0748, 1.25),
    (0.0751, 0.63), (0.0753, 1.04), (0.0756, 1.47), (0.0758, 0.77), (0.0761, 0.30),
    (0.0763, 1.16), (0.0766, 0.93), (0.0768, 0.51), (0.0771, 1.36), (0.0773, 0.84),
    (0.0776, 1.07), (0.0778, 0.66), (0.0781, 1.58), (0.0783, 0.98), (0.0786, 0.44),
    (0.0788, 1.22), (0.0791, 0.74), (0.0795, 1.02),
    (0.0801, 0.87), (0.0803, 1.18), (0.0806, 0.49), (0.0808, 1.39), (0.0811, 0.96),
    (0.0813, 0.65), (0.0816, 1.55), (0.0818, 1.07), (0.0821, 0.36), (0.0823, 0.78),
    (0.0826, 1.27), (0.0828, 0.58), (0.0831, 1.46), (0.0833, 1.00), (0.0836, 0.71),
    (0.0838, 1.62), (0.0841, 0.90), (0.0843, 0.42), (0.0846, 1.12), (0.0848, 0.82),
    (0.0851, 1.33), (0.0853, 0.54), (0.0856, 1.04), (0.0858, 0.31), (0.0861, 0.93),
    (0.0863, 1.22), (0.0866, 0.68), (0.0868, 1.50), (0.0871, 0.85), (0.0873, 1.09),
    (0.0876, 0.46), (0.0878, 1.29), (0.0881, 0.75), (0.0883, 0.99), (0.0886, 1.41),
    (0.0888, 0.61), (0.0891, 1.15), (0.0893, 0.89), (0.0896, 0.39), (0.0898, 1.05),
    (0.0901, 0.80), (0.0903, 1.12), (0.0905, 0.52), (0.0908, 1.35), (0.0910, 0.94),
    (0.0912, 0.63), (0.0915, 1.50), (0.0917, 1.03), (0.0919, 0.28), (0.0922, 0.74),
    (0.0924, 1.23), (0.0926, 0.45), (0.0929, 1.41), (0.0931, 0.88), (0.0933, 0.66),
    (0.0936, 1.58), (0.0938, 1.08), (0.0940, 0.37), (0.0943, 0.83), (0.0945, 1.29),
    (0.0947, 0.57), (0.0950, 0.99), (0.0952, 1.17), (0.0954, 0.70), (0.0957, 0.25),
    (0.0959, 1.46), (0.0961, 0.91), (0.0964, 0.49), (0.0966, 1.06), (0.0968, 0.77),
    (0.0971, 1.33), (0.0973, 0.60), (0.0975, 1.01), (0.0978, 0.34), (0.0980, 1.21),
    (0.0982, 0.86), (0.0985, 0.55), (0.0987, 1.38), (0.0989, 0.96), (0.0992, 0.68),
    (0.0994, 1.14), (0.0997, 0.42),
    (0.1001, 0.93), (0.1003, 0.61), (0.1005, 1.26), (0.1008, 0.38), (0.1010, 1.04),
    (0.1012, 0.79), (0.1015, 1.44), (0.1017, 0.50), (0.1019, 0.97), (0.1022, 1.15),
    (0.1024, 0.27), (0.1026, 0.71), (0.1029, 1.32), (0.1031, 0.88), (0.1033, 0.56),
    (0.1036, 1.53), (0.1038, 1.00), (0.1040, 0.43), (0.1043, 0.82), (0.1045, 1.20),
    (0.1047, 0.64), (0.1050, 0.33), (0.1052, 1.09), (0.1054, 0.90), (0.1057, 1.39),
    (0.1059, 0.53), (0.1061, 0.76), (0.1064, 1.02), (0.1066, 0.22), (0.1068, 1.24),
    (0.1071, 0.68), (0.1073, 0.95), (0.1075, 1.47), (0.1078, 0.46), (0.1080, 0.84),
    (0.1082, 1.11), (0.1085, 0.59), (0.1087, 0.35), (0.1089, 1.30), (0.1092, 0.73),
    (0.1094, 0.98), (0.1097, 0.51),
    (0.1101, 0.86), (0.1103, 0.55), (0.1105, 1.19), (0.1108, 0.31), (0.1110, 0.98),
    (0.1112, 0.72), (0.1115, 1.37), (0.1117, 0.47), (0.1119, 0.90), (0.1122, 1.08),
    (0.1124, 0.24), (0.1126, 0.65), (0.1129, 1.28), (0.1131, 0.81), (0.1133, 0.52),
    (0.1136, 1.49), (0.1138, 0.94), (0.1140, 0.39), (0.1143, 0.76), (0.1145, 1.14),
    (0.1147, 0.60), (0.1150, 0.29), (0.1152, 1.03), (0.1154, 0.85), (0.1157, 1.33),
    (0.1159, 0.48), (0.1161, 0.70), (0.1164, 0.97), (0.1166, 0.20), (0.1168, 1.17),
    (0.1171, 0.63), (0.1173, 0.89), (0.1175, 1.42), (0.1178, 0.42), (0.1180, 0.78),
    (0.1182, 1.06), (0.1185, 0.56), (0.1187, 0.33), (0.1189, 1.23), (0.1192, 0.68),
    (0.1194, 0.92), (0.1197, 0.45),
    (0.1201, 0.80), (0.1203, 0.50), (0.1206, 1.12), (0.1208, 0.27), (0.1211, 0.91),
    (0.1213, 0.66), (0.1216, 1.30), (0.1218, 0.42), (0.1221, 0.85), (0.1223, 1.02),
    (0.1226, 0.21), (0.1228, 0.60), (0.1231, 1.21), (0.1233, 0.75), (0.1236, 0.47),
    (0.1238, 1.41), (0.1241, 0.88), (0.1243, 0.35), (0.1246, 0.70), (0.1248, 1.07),
    (0.1251, 0.55), (0.1253, 0.25), (0.1256, 0.96), (0.1258, 0.79), (0.1261, 1.26),
    (0.1263, 0.44), (0.1266, 0.64), (0.1268, 0.90), (0.1271, 0.18), (0.1273, 1.10),
    (0.1276, 0.58), (0.1278, 0.83), (0.1281, 1.35), (0.1283, 0.38), (0.1286, 0.72),
    (0.1288, 0.99), (0.1291, 0.52), (0.1293, 0.30), (0.1296, 1.16), (0.1298, 0.63),
    (0.1301, 0.77), (0.1304, 0.47), (0.1306, 1.08), (0.1309, 0.24), (0.1311, 0.88),
    (0.1314, 0.62), (0.1316, 1.25), (0.1319, 0.39), (0.1321, 0.82), (0.1324, 0.98),
    (0.1326, 0.19), (0.1329, 0.57), (0.1331, 1.16), (0.1334, 0.72), (0.1336, 0.44),
    (0.1339, 1.36), (0.1341, 0.85), (0.1344, 0.32), (0.1346, 0.67), (0.1349, 1.03),
    (0.1351, 0.52), (0.1354, 0.23), (0.1356, 0.93), (0.1359, 0.76), (0.1361, 1.21),
    (0.1364, 0.41), (0.1366, 0.61), (0.1369, 0.87), (0.1371, 1.42), (0.1374, 1.05),
    (0.1376, 0.55), (0.1379, 0.80), (0.1381, 1.30), (0.1384, 0.36), (0.1386, 0.69),
    (0.1389, 0.96), (0.1392, 0.49), (0.1396, 1.12),
    (0.1402, 0.81), (0.1405, 0.53), (0.1408, 1.11), (0.1411, 0.30), (0.1414, 0.92),
    (0.1417, 0.68), (0.1420, 1.28), (0.1423, 0.44), (0.1426, 0.86), (0.1429, 1.02),
    (0.1432, 0.26), (0.1435, 0.62), (0.1438, 1.20), (0.1441, 0.75), (0.1444, 0.48),
    (0.1447, 1.39), (0.1450, 0.89), (0.1453, 0.37), (0.1456, 0.71), (0.1459, 1.07),
    (0.1462, 0.57), (0.1465, 0.96), (0.1468, 0.79), (0.1471, 1.25), (0.1474, 0.42),
    (0.1477, 0.65), (0.1480, 0.91), (0.1483, 1.15), (0.1486, 0.59), (0.1489, 0.84),
    (0.1492, 1.33), (0.1496, 0.50),
    (0.1503, 0.86), (0.1507, 0.58), (0.1510, 1.18), (0.1514, 0.36), (0.1517, 0.97),
    (0.1521, 0.72), (0.1524, 1.34), (0.1528, 0.49), (0.1531, 0.91), (0.1535, 1.07),
    (0.1538, 0.31), (0.1542, 0.66), (0.1545, 1.25), (0.1549, 0.80), (0.1552, 0.53),
    (0.1556, 1.44), (0.1559, 0.94), (0.1563, 0.41), (0.1566, 0.75), (0.1570, 1.12),
    (0.1573, 0.61), (0.1577, 1.00), (0.1580, 0.84), (0.1584, 1.29), (0.1587, 0.46),
    (0.1591, 0.69), (0.1594, 0.95), (0.1598, 1.20),
    (0.1603, 0.89), (0.1607, 0.61), (0.1611, 1.21), (0.1615, 0.40), (0.1619, 1.00),
    (0.1623, 0.75), (0.1627, 1.36), (0.1631, 0.53), (0.1635, 0.94), (0.1639, 1.11),
    (0.1643, 0.36), (0.1647, 0.69), (0.1651, 1.28), (0.1655, 0.83), (0.1659, 0.57),
    (0.1663, 1.43), (0.1667, 0.97), (0.1671, 0.45), (0.1675, 0.78), (0.1679, 1.15),
    (0.1683, 0.64), (0.1687, 1.04), (0.1691, 0.87), (0.1695, 1.31), (0.1699, 0.50),
    (0.1703, 0.92), (0.1707, 0.66), (0.1711, 1.24), (0.1715, 0.44), (0.1719, 1.03),
    (0.1723, 0.78), (0.1727, 1.38), (0.1731, 0.57), (0.1735, 0.97), (0.1739, 1.14),
    (0.1743, 0.40), (0.1747, 0.72), (0.1751, 1.30), (0.1755, 0.86), (0.1759, 0.60),
    (0.1763, 1.45), (0.1767, 1.00), (0.1771, 0.50), (0.1775, 0.81), (0.1779, 1.18),
    (0.1783, 0.68), (0.1787, 1.07), (0.1791, 0.89), (0.1795, 1.27), (0.1799, 0.54),
    (0.1804, 0.85), (0.1809, 0.60), (0.1814, 1.14), (0.1819, 0.45), (0.1824, 0.97),
    (0.1829, 0.73), (0.1834, 1.26), (0.1839, 0.55), (0.1844, 0.90), (0.1849, 1.05),
    (0.1854, 0.66), (0.1859, 0.80), (0.1864, 1.19), (0.1869, 0.49), (0.1874, 0.94),
    (0.1879, 0.70), (0.1884, 1.01), (0.1889, 0.58),
    (0.1905, 0.78), (0.1913, 0.56), (0.1921, 1.02), (0.1929, 0.67), (0.1937, 0.88),
    (0.1945, 0.50), (0.1953, 1.13), (0.1961, 0.74), (0.1969, 0.94), (0.1977, 0.61),
    (0.1985, 0.83), (0.1993, 1.06),
    (0.2010, 0.72), (0.2030, 0.91), (0.2050, 0.58), (0.2070, 0.84), (0.2090, 1.01),
    (0.2110, 0.66), (0.2130, 0.79), (0.2150, 0.95), (0.2170, 0.62), (0.2190, 0.76),
]
P5_CORE = [
    (0.0712, 0.86), (0.0843, 0.62), (0.0967, 1.05), (0.1086, 0.73), (0.1192, 0.49),
    (0.1317, 0.94), (0.1428, 0.66), (0.0781, 1.12), (0.0905, 0.41), (0.1023, 0.81),
    (0.1148, 1.17), (0.1263, 0.58), (0.1382, 0.77), (0.0669, 0.63), (0.0794, 0.95),
    (0.0918, 0.70), (0.1041, 0.52), (0.1167, 0.89), (0.1289, 1.06), (0.1404, 0.45),
    (0.0735, 0.54), (0.0862, 1.01), (0.0984, 0.64), (0.1109, 0.90), (0.1233, 0.38),
    (0.1352, 0.83), (0.1471, 0.97), (0.0758, 0.77), (0.0881, 0.53), (0.1005, 1.18),
    (0.1127, 0.62), (0.1248, 0.85), (0.1369, 0.53), (0.0690, 1.02), (0.0817, 0.69),
    (0.0943, 0.88), (0.1064, 0.44), (0.1183, 0.75), (0.1307, 0.67), (0.1437, 0.80),
    (0.0724, 0.40), (0.0850, 0.79), (0.0973, 0.57), (0.1098, 1.10), (0.1219, 0.71),
    (0.1338, 1.00), (0.1458, 0.61), (0.0770, 0.64), (0.0893, 1.14), (0.1017, 0.69),
    (0.1139, 0.41), (0.1257, 0.98), (0.1377, 0.64), (0.0681, 0.75), (0.0806, 0.48),
    (0.0931, 1.03), (0.1052, 0.79), (0.1175, 0.55), (0.1296, 0.81), (0.1419, 1.08),
    (0.0746, 0.97), (0.0871, 0.72), (0.0995, 0.46), (0.1118, 0.81), (0.1240, 1.12),
    (0.1361, 0.72), (0.1483, 0.70), (0.0701, 0.55), (0.0828, 0.88), (0.0955, 0.61),
    (0.1078, 0.99), (0.1200, 0.62), (0.1323, 0.44), (0.1446, 0.88), (0.0763, 0.43),
    (0.0887, 0.96), (0.1011, 0.74), (0.1133, 1.00), (0.1254, 0.51), (0.1373, 1.15),
    (0.0677, 0.90), (0.0801, 1.04), (0.0926, 0.56), (0.1047, 0.93), (0.1171, 0.68),
    (0.1293, 0.59), (0.1412, 0.73), (0.0729, 1.17), (0.0855, 0.46), (0.0979, 0.80),
    (0.1103, 0.64), (0.1226, 0.92), (0.1345, 0.61), (0.1466, 0.77), (0.0752, 0.69),
    (0.0876, 0.61), (0.1000, 0.54), (0.1121, 1.05), (0.1245, 0.76), (0.1366, 0.90),
    (0.0318, 1.12), (0.0351, 0.84), (0.0386, 1.28), (0.0419, 0.96), (0.0452, 1.21),
    (0.0487, 0.74), (0.0521, 1.09), (0.0556, 0.89), (0.0589, 1.36), (0.0623, 0.66),
    (0.0336, 1.41), (0.0371, 0.70), (0.0404, 1.16), (0.0438, 1.37), (0.0471, 1.04),
    (0.0505, 0.83), (0.0539, 1.25), (0.0573, 0.62), (0.0607, 1.00), (0.0640, 1.20),
    (0.0299, 1.02), (0.0395, 0.62), (0.0462, 0.89), (0.0530, 1.46), (0.0597, 0.80),
    (0.0648, 0.55), (0.0362, 1.52), (0.0426, 0.78), (0.0494, 1.30), (0.0564, 1.16),
    (0.1512, 0.74), (0.1547, 1.02), (0.1583, 0.57), (0.1618, 0.87), (0.1652, 1.10),
    (0.1689, 0.68), (0.1724, 0.93), (0.1761, 0.61), (0.1797, 1.02), (0.1832, 0.79),
    (0.1529, 0.88), (0.1566, 0.50), (0.1601, 1.09), (0.1636, 0.62), (0.1671, 0.82),
    (0.1707, 1.05), (0.1742, 0.71), (0.1778, 0.88), (0.1815, 0.67), (0.1858, 0.95),
    (0.0738, 0.27), (0.0826, 0.21), (0.0912, 0.31), (0.0998, 0.17), (0.1085, 0.26),
    (0.1170, 0.14), (0.1257, 0.29), (0.1341, 0.18), (0.1430, 0.27), (0.1515, 0.22),
    (0.0783, 0.35), (0.0869, 0.15), (0.0955, 0.23), (0.1042, 0.32), (0.1128, 0.19),
    (0.1213, 0.33), (0.1300, 0.12), (0.1385, 0.25), (0.1472, 0.16), (0.1558, 0.30),
    (0.0265, 1.72), (0.0318, 1.84), (0.0372, 1.61), (0.0425, 1.78), (0.0478, 1.69),
    (0.0531, 1.88), (0.0585, 1.56), (0.0638, 1.74), (0.0692, 1.83), (0.0745, 1.62),
    (0.0798, 1.77), (0.0851, 1.58), (0.0905, 1.71), (0.0958, 1.52), (0.1012, 1.66),
    (0.1065, 1.55), (0.1118, 1.70), (0.1172, 1.49), (0.1225, 1.61), (0.1278, 1.52),
    (0.1331, 1.64), (0.1385, 1.47), (0.1438, 1.58), (0.1492, 1.51), (0.0298, 1.55),
    (0.0455, 1.91), (0.0612, 1.47), (0.0768, 1.95), (0.0925, 1.44), (0.1081, 1.82),
    (0.1238, 1.43), (0.1395, 1.71), (0.1551, 1.60), (0.1620, 1.52), (0.0350, 1.67),
    (0.0505, 1.52), (0.0660, 1.60), (0.0822, 1.49), (0.0980, 1.80), (0.1140, 1.58),
]
P6 = [
    (0.0439, 2.352), (0.0444, 1.818), (0.0603, 2.013), (0.0649, 1.728), (0.0673, 1.600),
    (0.0707, 0.976), (0.0779, 2.288), (0.0779, 2.116), (0.0801, 1.887), (0.0936, 2.049),
    (0.0941, 1.442), (0.1030, 1.962), (0.1037, 1.934), (0.0998, 1.241), (0.1020, 1.255),
    (0.1037, 1.001), (0.1124, 2.180), (0.1170, 2.157), (0.1225, 2.116), (0.1276, 2.255),
    (0.1133, 1.873), (0.1225, 1.896), (0.1189, 1.767), (0.1102, 1.469), (0.1109, 1.414),
    (0.1150, 1.586), (0.1170, 1.586), (0.1186, 1.408), (0.1203, 1.322), (0.1182, 1.177),
    (0.1252, 1.283), (0.1283, 1.135), (0.1312, 1.269), (0.1348, 1.196), (0.1367, 1.065),
    (0.1362, 1.336), (0.1375, 1.798), (0.1440, 1.712), (0.1467, 1.909), (0.1472, 1.943),
    (0.1515, 1.965), (0.1481, 1.826), (0.1493, 1.698), (0.1447, 1.316), (0.1495, 1.316),
    (0.1428, 1.224), (0.1459, 1.141), (0.1471, 1.074), (0.1500, 1.247), (0.1522, 1.269),
    (0.1505, 1.595), (0.1616, 1.511), (0.1563, 1.386), (0.1625, 1.364), (0.1659, 2.213),
    (0.1722, 1.854), (0.1686, 1.740), (0.1686, 1.575), (0.1741, 1.405), (0.1664, 1.283),
    (0.1669, 1.177), (0.1724, 1.191), (0.1785, 1.511), (0.1833, 1.896), (0.1867, 1.726),
    (0.1821, 1.394), (0.1826, 1.350), (0.1838, 1.330), (0.1814, 1.143), (0.1845, 1.074),
    (0.1845, 1.029), (0.1886, 0.968), (0.1870, 0.912), (0.1934, 1.155), (0.1963, 1.010),
    (0.1941, 0.703), (0.1965, 1.539), (0.2001, 1.539), (0.2006, 1.748), (0.2030, 1.600),
    (0.2014, 1.394), (0.2030, 1.316), (0.2036, 1.191), (0.2071, 1.155), (0.2006, 0.974),
    (0.2096, 1.589), (0.2110, 1.748), (0.2115, 1.670), (0.2071, 1.380), (0.2089, 1.364),
    (0.2120, 0.870), (0.2180, 1.670), (0.2192, 1.567), (0.2171, 1.428), (0.2151, 1.135),
    (0.2182, 1.177), (0.2192, 0.976), (0.2219, 2.124), (0.2260, 1.224), (0.2272, 1.405),
    (0.2316, 1.414), (0.2308, 1.706), (0.2332, 1.196), (0.2344, 0.723), (0.2373, 0.934),
    (0.2421, 0.695), (0.2436, 1.213), (0.2460, 1.247), (0.2532, 0.656), (0.2532, 1.088),
    (0.2554, 1.149), (0.2586, 0.843), (0.2591, 0.932), (0.2641, 1.135), (0.2653, 1.171),
    (0.2670, 1.196), (0.2706, 1.247), (0.2713, 0.968), (0.2742, 0.834), (0.2778, 1.024),
    (0.2810, 0.597),
]
POINTS = [P1, P2, P3 + P3_CORE, P4 + P4_CORE, P5 + P5_CORE, P6]


def text_layer(txt, x, y, size, italic=False, angle=0):
    opts = dict(align='left', baseline='alphabetic', font=FONT, fontSize=size, color='black')
    if italic:
        opts['fontStyle'] = 'italic'
    if angle:
        opts['angle'] = angle
    return alt.Chart(pd.DataFrame({'t': [txt]})).mark_text(**opts).encode(
        x=alt.value(x), y=alt.value(y), text='t:N'
    )


def make_panel(i):
    left_col = i % 2 == 0
    bottom_row = i >= 4

    x_scale = alt.Scale(domain=[0.0, X_MAX[i]], nice=False, zero=False)
    y_scale = alt.Scale(domain=list(Y_RANGE[i]), nice=False, zero=False)
    x_axis = alt.Axis(values=X_TICKS[i], format='.2f', labelPadding=2, titlePadding=18,
                      labelFlush=False, labelOverlap=False)
    y_axis = alt.Axis(values=Y_TICKS[i], format='.1f', labelPadding=6,
                      labelFlush=False, labelOverlap=False)
    x_enc = alt.X('z:Q', scale=x_scale, axis=x_axis, title='Redshift' if bottom_row else None)
    y_enc = alt.Y('av:Q', scale=y_scale, axis=y_axis, title=None)

    pts = pd.DataFrame(POINTS[i], columns=['z', 'av'])
    bins = pd.DataFrame({'z': BIN_Z[i], 'av': BIN_AV[i]})
    xt = pd.DataFrame({'z': X_TICKS[i]})
    yt = pd.DataFrame({'av': Y_TICKS[i]})

    alpha = POINT_ALPHA[i]
    scatter = alt.Chart(pts).mark_circle(
        size=52, color=GRAY, fillOpacity=alpha, stroke=GRAY, strokeOpacity=alpha,
        strokeWidth=1, clip=True,
    ).encode(x=x_enc, y=y_enc)
    curve = alt.Chart(bins).mark_line(color=RED, strokeWidth=2.5).encode(x=x_enc, y=y_enc)
    dots = alt.Chart(bins).mark_point(
        shape='circle', filled=True, size=190, fill=RED, stroke='black',
        strokeWidth=1.1, opacity=1,
    ).encode(x=x_enc, y=y_enc)

    tick_style = dict(color='black', strokeWidth=1.5)
    ticks_bottom = alt.Chart(xt).mark_rule(**tick_style).encode(
        x=x_enc, y=alt.value(H), y2=alt.value(H - TICK_LEN))
    ticks_top = alt.Chart(xt).mark_rule(**tick_style).encode(
        x=x_enc, y=alt.value(0), y2=alt.value(TICK_LEN))
    ticks_left = alt.Chart(yt).mark_rule(**tick_style).encode(
        y=y_enc, x=alt.value(0), x2=alt.value(TICK_LEN))
    ticks_right = alt.Chart(yt).mark_rule(**tick_style).encode(
        y=y_enc, x=alt.value(W - TICK_LEN), x2=alt.value(W))

    lx, ly = 262, 61
    layers = [
        scatter, curve, dots, ticks_bottom, ticks_top, ticks_left, ticks_right,
        text_layer(LABEL_LEFT[i] + '>M', lx, ly, 27),
        text_layer('r', lx + 91, ly + 6, 17, italic=True),
        text_layer('>' + LABEL_RIGHT[i], lx + 102, ly, 27),
    ]
    if left_col:
        layers.append(text_layer('A', -75, H / 2 + 24, 33, angle=270))
        layers.append(text_layer('V', -70, H / 2 - 3, 18, italic=True, angle=270))

    return alt.layer(*layers).properties(width=W, height=H)


panels = [make_panel(i) for i in range(6)]

chart = alt.concat(
    *panels, columns=2, spacing=alt.RowColnumber(row=49, column=96), bounds='flush'
).configure_view(
    stroke='black', strokeWidth=2.6
).configure_axis(
    domain=False, ticks=False, tickSize=0, grid=False,
    labelFont=FONT, labelFontSize=26, labelColor='black',
    titleFont=FONT, titleFontSize=33, titleFontWeight='normal', titleColor='black',
).properties(
    padding={'left': 5, 'top': 3, 'right': 5, 'bottom': 5}, background='white'
)

chart.save('out.html', embed_options={'renderer': 'svg', 'actions': False})
